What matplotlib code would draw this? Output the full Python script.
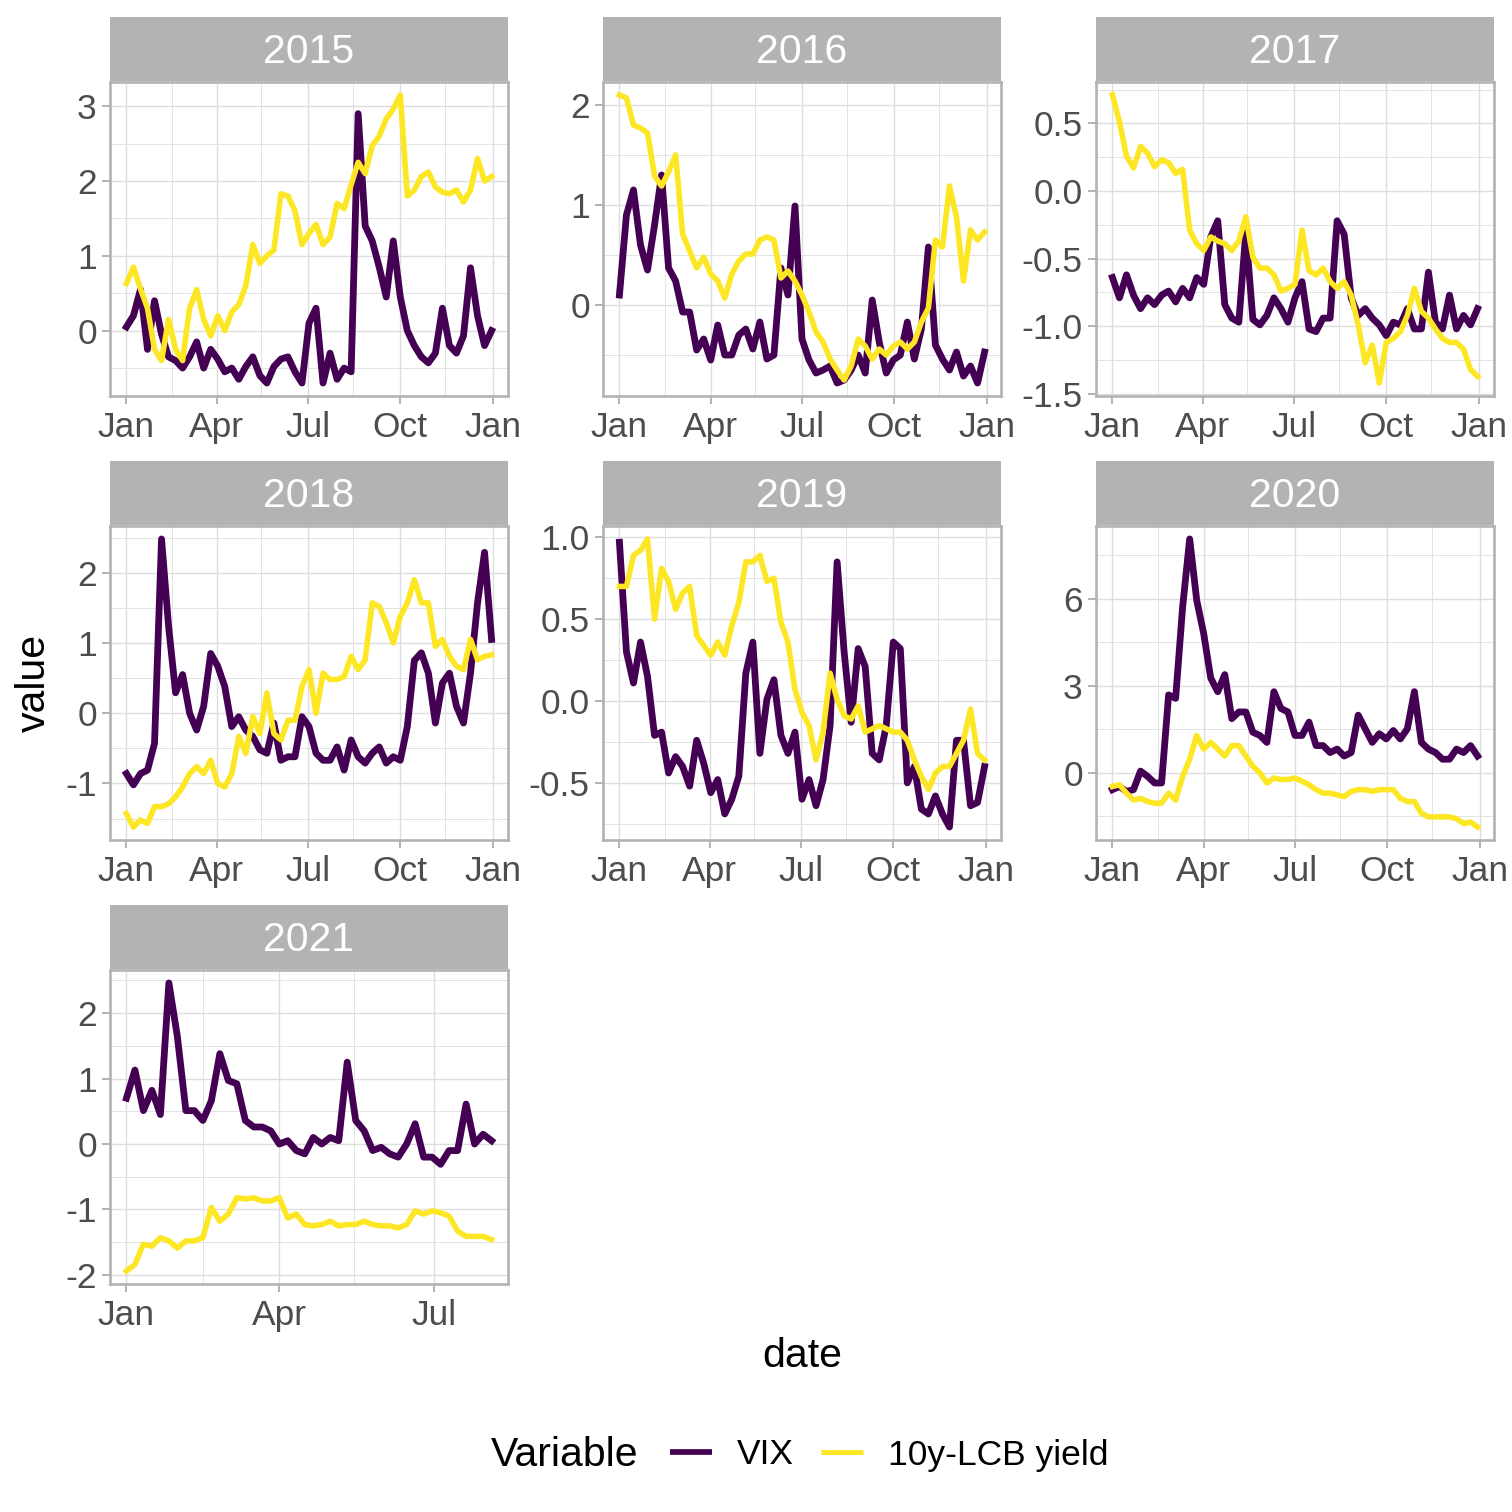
import pandas as pd
import matplotlib
matplotlib.use("Agg")
import matplotlib.pyplot as plt
import matplotlib.dates as mdates
from matplotlib.lines import Line2D
from matplotlib.ticker import FixedLocator, FixedFormatter

plt.rcParams["font.family"] = ["Liberation Sans", "DejaVu Sans"]
plt.rcParams["axes.unicode_minus"] = False

# ---- data (weekly readings, 2021 every 5 days) ----
years = [2015, 2016, 2017, 2018, 2019, 2020, 2021]

vix_2015 = [0.05, 0.2, 0.55, -0.25, 0.4, -0.05, -0.35, -0.4, -0.5, -0.35, -0.15, -0.5, -0.25,
            -0.38, -0.55, -0.5, -0.65, -0.48, -0.35, -0.6, -0.7, -0.48, -0.38, -0.35, -0.55, -0.7,
            0.1, 0.3, -0.7, -0.3, -0.65, -0.5, -0.55, 2.9, 1.4, 1.2, 0.85, 0.45, 1.2, 0.45, 0.0,
            -0.2, -0.35, -0.43, -0.3, 0.3, -0.2, -0.3, -0.07, 0.84, 0.2, -0.2, 0.0]
yld_2015 = [0.63, 0.85, 0.56, 0.3, -0.25, -0.4, 0.15, -0.25, -0.4, 0.3, 0.55, 0.15, -0.07,
            0.2, 0.0, 0.25, 0.35, 0.6, 1.15, 0.9, 1.0, 1.08, 1.83, 1.8, 1.6, 1.15, 1.3, 1.42,
            1.15, 1.25, 1.7, 1.63, 1.95, 2.25, 2.1, 2.47, 2.6, 2.83, 2.96, 3.15, 1.8, 1.88, 2.06,
            2.12, 1.92, 1.85, 1.83, 1.88, 1.72, 1.88, 2.3, 2.0, 2.06]

vix_2016 = [0.1, 0.9, 1.15, 0.6, 0.35, 0.8, 1.3, 0.37, 0.24, -0.07, -0.07, -0.45, -0.34,
            -0.55, -0.2, -0.5, -0.5, -0.3, -0.24, -0.44, -0.17, -0.54, -0.5, 0.37, 0.1, 0.99,
            -0.34, -0.55, -0.68, -0.65, -0.61, -0.78, -0.75, -0.65, -0.5, -0.68, 0.05, -0.37,
            -0.68, -0.55, -0.5, -0.17, -0.54, -0.24, 0.58, -0.4, -0.54, -0.65, -0.47, -0.71,
            -0.61, -0.78, -0.47]
yld_2016 = [2.1, 2.07, 1.8, 1.77, 1.72, 1.29, 1.19, 1.33, 1.5, 0.71, 0.54, 0.37, 0.48, 0.31,
            0.24, 0.07, 0.31, 0.44, 0.51, 0.51, 0.65, 0.68, 0.65, 0.27, 0.34, 0.24, 0.1, -0.07,
            -0.27, -0.37, -0.54, -0.65, -0.75, -0.61, -0.34, -0.41, -0.54, -0.44, -0.5, -0.41,
            -0.37, -0.44, -0.37, -0.17, -0.03, 0.65, 0.58, 1.19, 0.88, 0.24, 0.75, 0.65, 0.73]

vix_2017 = [-0.64, -0.79, -0.62, -0.77, -0.87, -0.79, -0.84, -0.77, -0.74, -0.82, -0.72, -0.79,
            -0.64, -0.69, -0.34, -0.22, -0.84, -0.94, -0.97, -0.3, -0.95, -0.99, -0.92, -0.79,
            -0.87, -0.97, -0.79, -0.67, -1.02, -1.04, -0.94, -0.94, -0.22, -0.32, -0.79, -0.92,
            -0.87, -0.94, -0.99, -1.07, -0.97, -0.99, -0.87, -1.02, -1.02, -0.6, -0.97, -1.02,
            -0.77, -1.02, -0.92, -0.99, -0.87]
yld_2017 = [0.71, 0.51, 0.26, 0.17, 0.33, 0.28, 0.18, 0.23, 0.21, 0.13, 0.16, -0.29, -0.39,
            -0.44, -0.34, -0.37, -0.39, -0.44, -0.37, -0.19, -0.49, -0.57, -0.57, -0.62, -0.74,
            -0.72, -0.69, -0.29, -0.59, -0.62, -0.57, -0.67, -0.72, -0.67, -0.77, -0.99, -1.27,
            -1.14, -1.42, -1.12, -1.09, -1.04, -0.92, -0.72, -0.89, -0.94, -1.02, -1.09, -1.12,
            -1.12, -1.17, -1.32, -1.37]

vix_2018 = [-0.86, -1.02, -0.86, -0.81, -0.43, 2.48, 1.24, 0.29, 0.55, 0.0, -0.24, 0.1, 0.85,
            0.67, 0.38, -0.19, -0.05, -0.24, -0.33, -0.52, -0.57, -0.14, -0.67, -0.62, -0.62,
            -0.05, -0.19, -0.57, -0.67, -0.67, -0.48, -0.81, -0.38, -0.62, -0.71, -0.57, -0.48,
            -0.71, -0.62, -0.67, -0.19, 0.75, 0.86, 0.57, -0.14, 0.43, 0.57, 0.1, -0.14, 0.57,
            1.57, 2.29, 1.05]
yld_2018 = [-1.43, -1.62, -1.52, -1.57, -1.33, -1.33, -1.29, -1.19, -1.05, -0.86, -0.76, -0.86,
            -0.67, -1.0, -1.05, -0.86, -0.33, -0.57, -0.05, -0.29, 0.29, -0.29, -0.38, -0.1,
            -0.1, 0.38, 0.62, 0.0, 0.57, 0.48, 0.48, 0.52, 0.81, 0.62, 0.76, 1.57, 1.52, 1.29,
            1.0, 1.38, 1.57, 1.9, 1.57, 1.57, 0.95, 1.05, 0.81, 0.67, 0.62, 1.05, 0.76, 0.81, 0.83]

vix_2019 = [0.97, 0.3, 0.11, 0.36, 0.15, -0.21, -0.19, -0.44, -0.34, -0.4, -0.52, -0.24, -0.38,
            -0.56, -0.48, -0.69, -0.6, -0.46, 0.17, 0.36, -0.32, 0.01, 0.13, -0.21, -0.32, -0.19,
            -0.6, -0.48, -0.64, -0.48, -0.15, 0.85, 0.3, -0.13, 0.32, 0.21, -0.32, -0.36, -0.15,
            0.36, 0.32, -0.5, -0.4, -0.66, -0.69, -0.58, -0.69, -0.77, -0.24, -0.24, -0.64,
            -0.62, -0.4]
yld_2019 = [0.7, 0.7, 0.89, 0.92, 0.99, 0.5, 0.81, 0.73, 0.56, 0.66, 0.7, 0.4, 0.34, 0.28,
            0.36, 0.28, 0.46, 0.6, 0.85, 0.85, 0.89, 0.73, 0.75, 0.48, 0.36, 0.07, -0.07, -0.15,
            -0.36, -0.19, 0.17, 0.01, -0.09, -0.11, -0.03, -0.19, -0.17, -0.15, -0.17, -0.19,
            -0.19, -0.24, -0.36, -0.46, -0.54, -0.44, -0.4, -0.4, -0.32, -0.24, -0.05, -0.32, -0.36]

vix_2020 = [-0.58, -0.47, -0.64, -0.58, 0.06, -0.12, -0.35, -0.35, 2.69, 2.57, 5.73, 8.07, 5.96,
            4.8, 3.27, 2.8, 3.39, 1.87, 2.1, 2.1, 1.4, 1.29, 1.05, 2.8, 2.22, 2.1, 1.29, 1.29,
            1.75, 0.94, 0.94, 0.7, 0.82, 0.58, 0.7, 1.99, 1.52, 1.05, 1.35, 1.17, 1.46, 1.17,
            1.52, 2.8, 1.05, 0.82, 0.7, 0.47, 0.47, 0.82, 0.7, 0.94, 0.58]
yld_2020 = [-0.47, -0.41, -0.7, -0.94, -0.88, -0.99, -1.05, -1.05, -0.7, -0.94, -0.12, 0.47,
            1.29, 0.82, 1.05, 0.82, 0.58, 0.94, 0.94, 0.58, 0.23, 0.0, -0.35, -0.18, -0.23,
            -0.23, -0.18, -0.29, -0.41, -0.58, -0.7, -0.7, -0.76, -0.82, -0.64, -0.58, -0.58,
            -0.64, -0.58, -0.58, -0.58, -0.88, -0.99, -0.99, -1.4, -1.52, -1.52, -1.52, -1.52,
            -1.58, -1.75, -1.7, -1.87]

vix_2021 = [0.7, 1.13, 0.51, 0.82, 0.45, 2.46, 1.64, 0.51, 0.51, 0.36, 0.66, 1.38, 0.97, 0.92,
            0.36, 0.26, 0.26, 0.2, 0.0, 0.05, -0.1, -0.15, 0.1, 0.0, 0.1, 0.05, 1.25, 0.36, 0.2,
            -0.1, -0.05, -0.15, -0.2, 0.0, 0.31, -0.2, -0.2, -0.31, -0.1, -0.1, 0.61, 0.0, 0.15,
            0.05]
yld_2021 = [-1.94, -1.84, -1.53, -1.56, -1.43, -1.48, -1.59, -1.48, -1.48, -1.43, -0.97, -1.18,
            -1.07, -0.82, -0.84, -0.82, -0.87, -0.87, -0.82, -1.13, -1.07, -1.23, -1.25, -1.23,
            -1.18, -1.25, -1.23, -1.23, -1.18, -1.23, -1.25, -1.25, -1.28, -1.23, -1.02, -1.07,
            -1.02, -1.05, -1.1, -1.33, -1.41, -1.41, -1.41, -1.46]

step_days = {2015: 7, 2016: 7, 2017: 7, 2018: 7, 2019: 7, 2020: 7, 2021: 5}

y_breaks = {
    2015: [0, 1, 2, 3],
    2016: [0, 1, 2],
    2017: [-1.5, -1.0, -0.5, 0.0, 0.5],
    2018: [-1, 0, 1, 2],
    2019: [-0.5, 0.0, 0.5, 1.0],
    2020: [0, 3, 6],
    2021: [-2, -1, 0, 1, 2],
}
one_decimal = [2017, 2019]

vix = {2015: vix_2015, 2016: vix_2016, 2017: vix_2017, 2018: vix_2018,
       2019: vix_2019, 2020: vix_2020, 2021: vix_2021}
yld = {2015: yld_2015, 2016: yld_2016, 2017: yld_2017, 2018: yld_2018,
       2019: yld_2019, 2020: yld_2020, 2021: yld_2021}

VIX_COL = "#440154"
YLD_COL = "#FDE725"
GRID = "#DEDEDE"
BORDER = "#B3B3B3"

W = H = 1512
fig = plt.figure(figsize=(W / 100, H / 100), dpi=100)


def box(x0, y0, w, h):
    return [x0 / W, 1 - (y0 + h) / H, w / W, h / H]


col_x = [110, 603, 1096]
row_y = [82, 526, 970]
pw, ph, sh = 398, 314, 64

for i, yr in enumerate(years):
    r, c = divmod(i, 3)
    n = len(vix[yr])
    dates = pd.date_range(f"{yr}-01-01", periods=n, freq=f"{step_days[yr]}D")

    ax = fig.add_axes(box(col_x[c], row_y[r], pw, ph))
    ax.plot(dates, vix[yr], color=VIX_COL, lw=4.9, zorder=3, solid_joinstyle="round")
    ax.plot(dates, yld[yr], color=YLD_COL, lw=4.0, zorder=4, solid_joinstyle="round")
    ax.margins(x=0.045, y=0.045)

    # y breaks and midpoint minor breaks
    br = y_breaks[yr]
    stp = br[1] - br[0]
    minors = [br[0] - stp / 2] + [b + stp / 2 for b in br]
    ax.yaxis.set_major_locator(FixedLocator(br))
    labs = [f"{b:.1f}" if yr in one_decimal else f"{b:g}" for b in br]
    ax.yaxis.set_major_formatter(FixedFormatter(labs))
    ax.yaxis.set_minor_locator(FixedLocator(minors))

    ax.xaxis.set_major_locator(mdates.MonthLocator(bymonth=[1, 4, 7, 10]))
    ax.xaxis.set_major_formatter(mdates.DateFormatter("%b"))
    ax.xaxis.set_minor_locator(mdates.MonthLocator(bymonth=[2, 5, 8, 11], bymonthday=15))

    ax.grid(which="major", color=GRID, lw=1.0)
    ax.grid(which="minor", color=GRID, lw=0.6)
    ax.set_axisbelow(True)
    for s in ax.spines.values():
        s.set_color(BORDER)
        s.set_linewidth(1.9)
    ax.tick_params(which="major", length=5.5, width=1.4, color=BORDER,
                   labelsize=25.5, labelcolor="#4D4D4D")
    ax.tick_params(axis="x", pad=5)
    ax.tick_params(axis="y", pad=4)
    ax.tick_params(which="minor", length=0)

    # facet strip
    sax = fig.add_axes(box(col_x[c], row_y[r] - sh - 1, pw, sh))
    sax.set_facecolor(BORDER)
    sax.set_xticks([])
    sax.set_yticks([])
    for s in sax.spines.values():
        s.set_visible(False)
    sax.text(0.5, 0.45, str(yr), color="white", fontsize=29.5,
             ha="center", va="center", transform=sax.transAxes)

fig.text(802 / W, 1 - 1356 / H, "date", ha="center", va="center", fontsize=29.5)
fig.text(34 / W, 1 - 683 / H, "value", ha="center", va="center",
         rotation=90, fontsize=29.5)

# legend at the bottom
fig.text(491 / W, 1 - 1455 / H, "Variable", ha="left", va="center", fontsize=29.5)
handles = [Line2D([], [], color=VIX_COL, lw=4.1, solid_capstyle="butt"),
           Line2D([], [], color=YLD_COL, lw=3.6, solid_capstyle="butt")]
fig.legend(handles, ["VIX", "10y-LCB yield"], loc="center left",
           bbox_to_anchor=(670 / W, 1 - 1455 / H), ncol=2, frameon=False,
           fontsize=25.5, handlelength=1.19, handletextpad=0.7, columnspacing=0.76,
           borderpad=0, borderaxespad=0)

fig.savefig("out.png", dpi=100)
